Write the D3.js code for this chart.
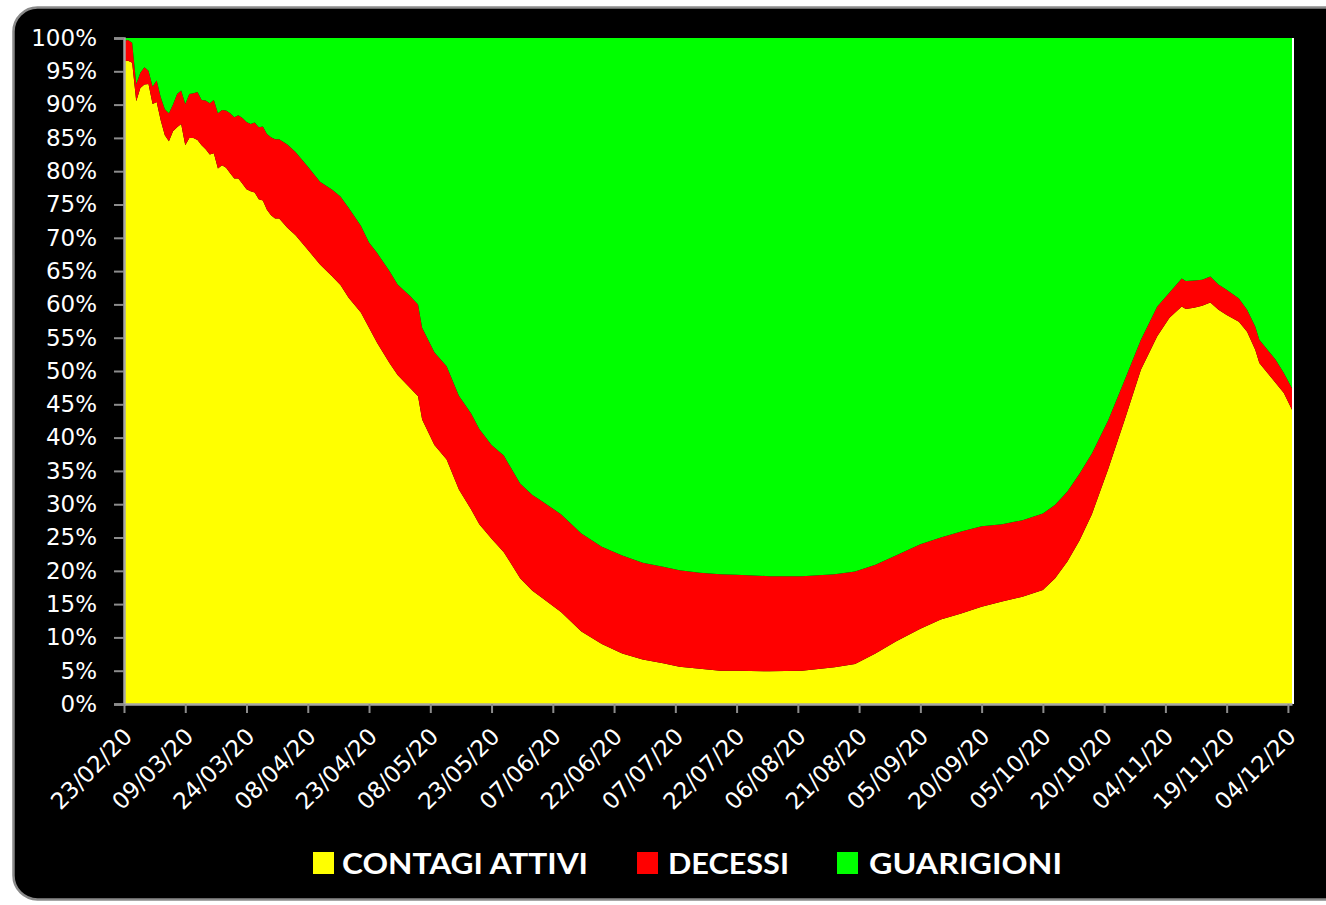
<!DOCTYPE html>
<html>
<head>
<meta charset="utf-8">
<script src="https://cdn.jsdelivr.net/npm/d3@7"></script>
<style>
  html, body { margin: 0; padding: 0; background: #ffffff; }
  svg { display: block; }
</style>
</head>
<body>
<svg id="chart" width="1326" height="905"></svg>
<script>
// ---------- DATA (percentages of total cases) ----------
const dates = [
  "23/02/20","24/02/20","25/02/20","26/02/20","27/02/20","28/02/20","29/02/20","01/03/20","02/03/20","03/03/20",
  "04/03/20","05/03/20","06/03/20","07/03/20","08/03/20","09/03/20","10/03/20","11/03/20","12/03/20","13/03/20",
  "14/03/20","15/03/20","16/03/20","17/03/20","18/03/20","19/03/20","20/03/20","21/03/20","22/03/20","23/03/20",
  "24/03/20","25/03/20","26/03/20","27/03/20","28/03/20","29/03/20","30/03/20","31/03/20","01/04/20","03/04/20",
  "05/04/20","08/04/20","11/04/20","14/04/20","16/04/20","18/04/20","21/04/20","23/04/20","25/04/20","28/04/20",
  "30/04/20","03/05/20","05/05/20","06/05/20","09/05/20","12/05/20","15/05/20","18/05/20","20/05/20","23/05/20",
  "26/05/20","30/05/20","02/06/20","04/06/20","09/06/20","14/06/20","19/06/20","24/06/20","29/06/20","04/07/20",
  "08/07/20","13/07/20","18/07/20","22/07/20","30/07/20","07/08/20","15/08/20","20/08/20","25/08/20","30/08/20",
  "05/09/20","10/09/20","15/09/20","20/09/20","25/09/20","30/09/20","05/10/20","08/10/20","11/10/20","14/10/20",
  "17/10/20","21/10/20","25/10/20","29/10/20","02/11/20","05/11/20","08/11/20","09/11/20","11/11/20","13/11/20",
  "15/11/20","17/11/20","19/11/20","22/11/20","24/11/20","26/11/20","27/11/20","29/11/20","01/12/20","03/12/20",
  "05/12/20"
];
const contagiAttivi = [
  96.5,96.6,96.3,90.5,92.5,93.0,93.1,90.1,90.4,87.6,
  85.4,84.5,86.0,86.6,87.1,83.9,85.0,85.0,84.7,83.9,
  83.3,82.5,82.7,80.4,80.9,80.5,79.7,78.9,78.9,78.1,
  77.3,77.0,76.8,75.8,75.6,74.2,73.4,72.9,72.9,71.5,
  70.4,68.2,66.0,64.2,62.9,61.0,58.8,56.5,54.2,51.2,
  49.4,47.5,46.2,42.7,38.9,36.7,32.2,29.2,27.0,24.8,
  22.8,18.9,17.0,16.1,13.8,10.9,9.0,7.6,6.7,6.1,
  5.6,5.3,5.0,5.0,4.9,5.0,5.5,6.0,7.6,9.4,
  11.3,12.7,13.6,14.6,15.4,16.1,17.1,18.9,21.4,24.6,
  28.5,35.3,42.6,50.2,55.2,58.0,59.7,59.3,59.5,59.8,
  60.3,59.2,58.4,57.4,55.9,53.2,51.2,49.7,48.2,46.7,
  44.2
];
const decessi = [
  3.1,3.1,3.0,2.6,2.3,2.6,2.0,2.6,3.2,3.5,
  3.9,4.2,4.0,5.0,5.0,6.2,6.6,6.7,7.2,6.8,
  7.3,7.7,8.0,8.3,8.3,8.6,9.0,9.2,9.5,9.9,
  10.1,10.1,10.5,10.8,11.1,11.4,11.7,11.9,11.9,12.5,
  12.5,12.5,12.4,13.0,13.3,13.5,13.0,12.8,13.5,13.8,
  13.6,13.8,13.8,13.8,13.9,14.0,14.1,14.4,14.3,14.1,
  14.5,14.2,14.4,14.5,14.7,14.7,14.6,14.7,14.5,14.5,
  14.5,14.4,14.5,14.4,14.3,14.2,14.0,13.9,13.3,12.9,
  12.7,12.3,12.3,12.1,11.6,11.5,11.5,11.0,10.5,10.0,
  9.1,7.3,6.0,4.5,4.5,3.8,4.2,4.2,4.1,3.9,
  3.9,3.8,3.8,3.5,3.3,3.5,3.5,3.5,3.5,3.0,
  3.2
];
const guarigioni = [
  0.4,0.3,0.7,6.9,5.2,4.4,4.9,7.3,6.4,8.9,
  10.7,11.3,10.0,8.4,7.9,9.9,8.4,8.3,8.1,9.3,
  9.4,9.8,9.3,11.3,10.8,10.9,11.3,11.9,11.6,12.0,
  12.6,12.9,12.7,13.4,13.3,14.4,14.9,15.2,15.2,16.0,
  17.1,19.3,21.6,22.8,23.8,25.5,28.2,30.7,32.3,35.0,
  37.0,38.7,40.0,43.5,47.2,49.3,53.7,56.4,58.7,61.1,
  62.7,66.9,68.6,69.4,71.5,74.4,76.4,77.7,78.8,79.4,
  79.9,80.3,80.5,80.6,80.8,80.8,80.5,80.1,79.1,77.7,
  76.0,75.0,74.1,73.3,73.0,72.4,71.4,70.1,68.1,65.4,
  62.4,57.4,51.4,45.3,40.3,38.2,36.1,36.5,36.4,36.3,
  35.8,37.0,37.8,39.1,40.8,43.3,45.3,46.8,48.3,50.3,
  52.6
];
const seriesNames = ["CONTAGI ATTIVI", "DECESSI", "GUARIGIONI"];
const seriesColors = ["#FFFF00", "#FF0000", "#00FF00"];
const xTickLabels = [
  "23/02/20","09/03/20","24/03/20","08/04/20","23/04/20","08/05/20","23/05/20","07/06/20","22/06/20","07/07/20",
  "22/07/20","06/08/20","21/08/20","05/09/20","20/09/20","05/10/20","20/10/20","04/11/20","19/11/20","04/12/20"
];
const yTickValues = [0,5,10,15,20,25,30,35,40,45,50,55,60,65,70,75,80,85,90,95,100];

// ---------- BUILD ----------
const parse = d3.utcParse("%d/%m/%y");
const fmt = d3.utcFormat("%d/%m/%y");
const keys = ["attivi", "decessi", "guarigioni"];
const table = dates.map((d, i) => ({
  date: parse(d), attivi: contagiAttivi[i], decessi: decessi[i], guarigioni: guarigioni[i]
}));

const svg = d3.select("#chart");
svg.append("rect").attr("width", 1326).attr("height", 905).attr("fill", "#ffffff");
// black rounded frame
svg.append("rect")
  .attr("x", 13.5).attr("y", 7.5).attr("width", 1345).attr("height", 892)
  .attr("rx", 24).attr("ry", 24)
  .attr("fill", "#000000").attr("stroke", "#8a8a8a").attr("stroke-width", 2.5);

const plotL = 124, plotR = 1292, plotT = 38, plotB = 704;
const x = d3.scaleUtc().domain([parse("23/02/20"), parse("05/12/20")]).range([plotL, plotR]);
const y = d3.scaleLinear().domain([0, 100]).range([plotB, plotT]);

const stacked = d3.stack().keys(keys).offset(d3.stackOffsetExpand)(table);
const area = d3.area()
  .x(d => x(d.data.date))
  .y0(d => y(d[0] * 100))
  .y1(d => y(d[1] * 100));

svg.append("g").selectAll("path").data(stacked).join("path")
  .attr("d", area)
  .attr("fill", (d, i) => seriesColors[i]);

// thin white edge at right of plot area
svg.append("line")
  .attr("x1", plotR + 1).attr("x2", plotR + 1).attr("y1", plotT).attr("y2", plotB)
  .attr("stroke", "#ffffff").attr("stroke-width", 2);

// Y axis
const yAxis = svg.append("g").attr("transform", `translate(${plotL},0)`)
  .call(d3.axisLeft(y).tickValues(yTickValues).tickFormat(d => d + "%").tickSize(10).tickPadding(17));
yAxis.select(".domain").attr("stroke", "#a6a6a6").attr("stroke-width", 2.5);
yAxis.selectAll(".tick line").attr("stroke", "#8c8c8c").attr("stroke-width", 2);
yAxis.selectAll(".tick text")
  .attr("fill", "#ffffff").attr("font-family", "DejaVu Sans").attr("font-size", 23);

// X axis
const xAxis = svg.append("g").attr("transform", `translate(0,${plotB})`)
  .call(d3.axisBottom(x).tickValues(xTickLabels.map(parse)).tickFormat(fmt).tickSize(9).tickSizeOuter(0));
xAxis.select(".domain").attr("stroke", "#a6a6a6").attr("stroke-width", 2.5);
xAxis.selectAll(".tick line").attr("stroke", "#8c8c8c").attr("stroke-width", 2);
xAxis.selectAll(".tick text")
  .attr("fill", "#ffffff").attr("font-family", "DejaVu Sans").attr("font-size", 23)
  .attr("text-anchor", "end").attr("x", 0).attr("y", 0).attr("dy", 0)
  .attr("transform", "translate(9,34) rotate(-45)");

// Legend
const legendItems = [
  { sx: 313, tx: 342, tw: 246 },
  { sx: 637, tx: 668, tw: 121 },
  { sx: 837, tx: 869, tw: 193 }
];
const lg = svg.append("g");
legendItems.forEach((p, i) => {
  lg.append("rect").attr("x", p.sx).attr("y", 852).attr("width", 21).attr("height", 22)
    .attr("fill", seriesColors[i]);
  lg.append("text").attr("x", p.tx).attr("y", 874)
    .attr("fill", "#ffffff").attr("font-family", "Lato, 'Open Sans', sans-serif")
    .attr("font-weight", "bold").attr("font-size", 29)
    .attr("textLength", p.tw).attr("lengthAdjust", "spacingAndGlyphs")
    .text(seriesNames[i]);
});
</script>
</body>
</html>
